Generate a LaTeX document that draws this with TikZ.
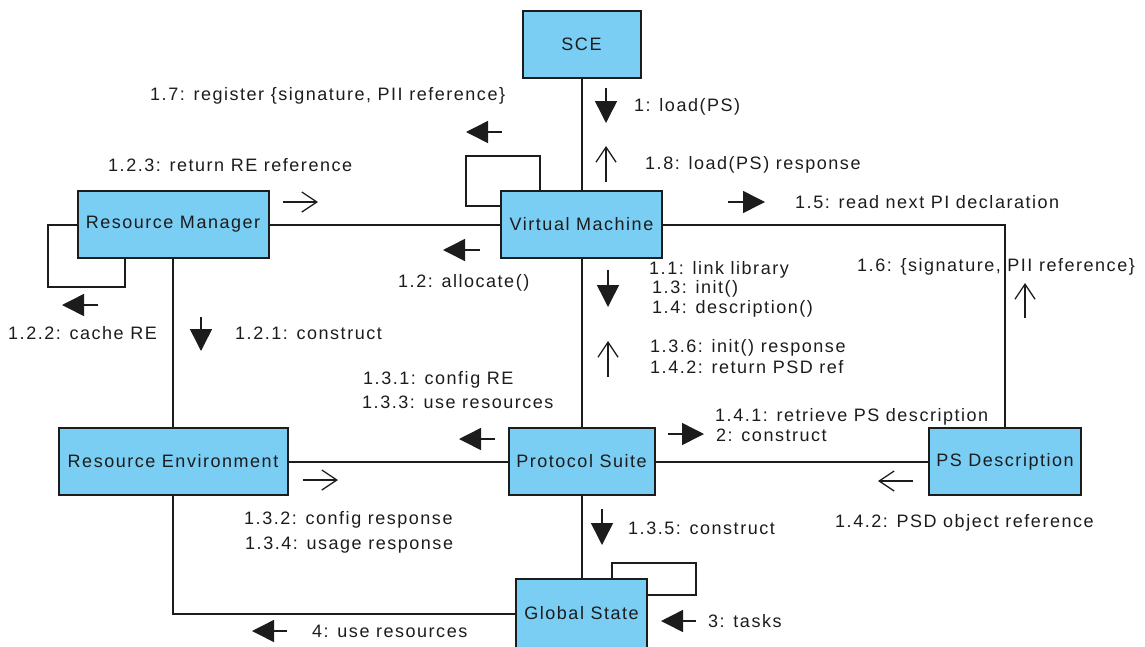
\documentclass[tikz,border=0pt]{standalone}
\usepackage{fontspec}
\setmainfont{Liberation Sans}[LetterSpace=8.5]
\usetikzlibrary{arrows.meta,calc}
\definecolor{boxfill}{RGB}{122,206,243}
\definecolor{ink}{RGB}{28,28,28}
\begin{document}
\begin{tikzpicture}[x=1pt,y=-1pt,
  box/.style={draw=ink, line width=2pt, fill=boxfill, minimum height=67pt,
              inner sep=0pt, text=ink, font=\fontsize{18}{20}\selectfont},
  link/.style={draw=ink, line width=2pt},
  lbl/.style={anchor=west, inner sep=0pt, text height=13pt, text depth=0pt,
              text=ink, font=\fontsize{18}{20}\selectfont},
  fmsg/.style={draw=ink, line width=1.5pt, -{Triangle[length=22pt,width=22pt]}},
  omsg/.style={draw=ink, line width=1.3pt, -{Straight Barb[length=15pt,width=20pt]}},
]
\useasboundingbox (0,0) rectangle (1145,646);

% objects
\node[box, minimum width=118pt] (SCE) at (581.5,44.5)  {SCE};
\node[box, minimum width=161pt] (VM)  at (581.5,224.5) {Virtual Machine};
\node[box, minimum width=191pt] (RM)  at (173,224.5)   {Resource Manager};
\node[box, minimum width=229pt] (RE)  at (173,461.5)   {Resource Environment};
\node[box, minimum width=146pt] (PS)  at (581.5,461.5) {Protocol Suite};
\node[box, minimum width=152pt] (PSD) at (1005,461.5)  {PS Description};
\node[box, minimum width=131pt, minimum height=69pt] (GS) at (581.5,613.5) {Global State};

% links
\draw[link] (SCE) -- (VM);
\draw[link] (RM) -- (VM);
\draw[link] (VM) -| (PSD);
\draw[link] (VM) -- (PS);
\draw[link] (RM) -- (RE);
\draw[link] (RE) -- (PS);
\draw[link] (PS) -- (PSD);
\draw[link] (PS) -- (GS);
\draw[link] (RE) |- (GS);

% self links
\draw[link] ([xshift=40pt]VM.north west) -- ++(0,-34) -- ++(-74,0) -- ++(0,50)
            -- ([yshift=-16pt]VM.north west);
\draw[link] (RM.west) -- ++(-29,0) -- ++(0,62) -| ([xshift=48pt]RM.south west);
\draw[link] ([xshift=97pt]GS.north west) -- ++(0,-15) -- ++(84,0) -- ++(0,32)
            -- ([yshift=-17pt]GS.north east);

% message arrows
\draw[fmsg] (606,88) -- (606,123);
\draw[omsg] (606,182) -- (606,146);
\draw[fmsg] (502,132) -- (466,132);
\draw[fmsg] (480,250) -- (443,250);
\draw[omsg] (283,202) -- (318,202);
\draw[fmsg] (98,305) -- (62,305);
\draw[fmsg] (201,317) -- (201,351);
\draw[fmsg] (728,202) -- (765,202);
\draw[omsg] (1025,318) -- (1025,283);
\draw[fmsg] (608,270) -- (608,307);
\draw[omsg] (608,377) -- (608,341);
\draw[fmsg] (495,439) -- (459,439);
\draw[fmsg] (668,434) -- (704,434);
\draw[omsg] (303,480) -- (338,480);
\draw[omsg] (913,481) -- (878,481);
\draw[fmsg] (602,509) -- (602,545);
\draw[fmsg] (287,631) -- (252,631);
\draw[fmsg] (696,621) -- (661,621);

% message labels
\node[lbl] (m1)    at (634,105) {1: load(PS)};
\node[lbl] (m18)   at (645,163) {1.8: load(PS) response};
\node[lbl] (m17)   at (150,94)  {1.7: register \{signature, PII reference\}};
\node[lbl] (m123)  at (108,165) {1.2.3: return RE reference};
\node[lbl] (m12)   at (398,281) {1.2: allocate()};
\node[lbl] (m15)   at (795,202) {1.5: read next PI declaration};
\node[lbl] (m16)   at (857,265) {1.6: \{signature, PII reference\}};
\node[lbl] (m11)   at (649,268) {1.1: link library};
\node[lbl] (m13)   at (652,287) {1.3: init()};
\node[lbl] (m14)   at (652,307) {1.4: description()};
\node[lbl] (m136)  at (650,346) {1.3.6: init() response};
\node[lbl] (m142)  at (650,367) {1.4.2: return PSD ref};
\node[lbl] (m131)  at (363,378) {1.3.1: config RE};
\node[lbl] (m133)  at (362,402) {1.3.3: use resources};
\node[lbl] (m141)  at (715,415) {1.4.1: retrieve PS description};
\node[lbl] (m2)    at (716,435) {2: construct};
\node[lbl] (m122)  at (8,333)   {1.2.2: cache RE};
\node[lbl] (m121)  at (235,333) {1.2.1: construct};
\node[lbl] (m132)  at (244,518) {1.3.2: config response};
\node[lbl] (m134)  at (245,543) {1.3.4: usage response};
\node[lbl] (m135)  at (628,528) {1.3.5: construct};
\node[lbl] (m4)    at (312,631) {4: use resources};
\node[lbl] (m3)    at (708,621) {3: tasks};
\node[lbl] (m142b) at (835,521) {1.4.2: PSD object reference};
\end{tikzpicture}
\end{document}
